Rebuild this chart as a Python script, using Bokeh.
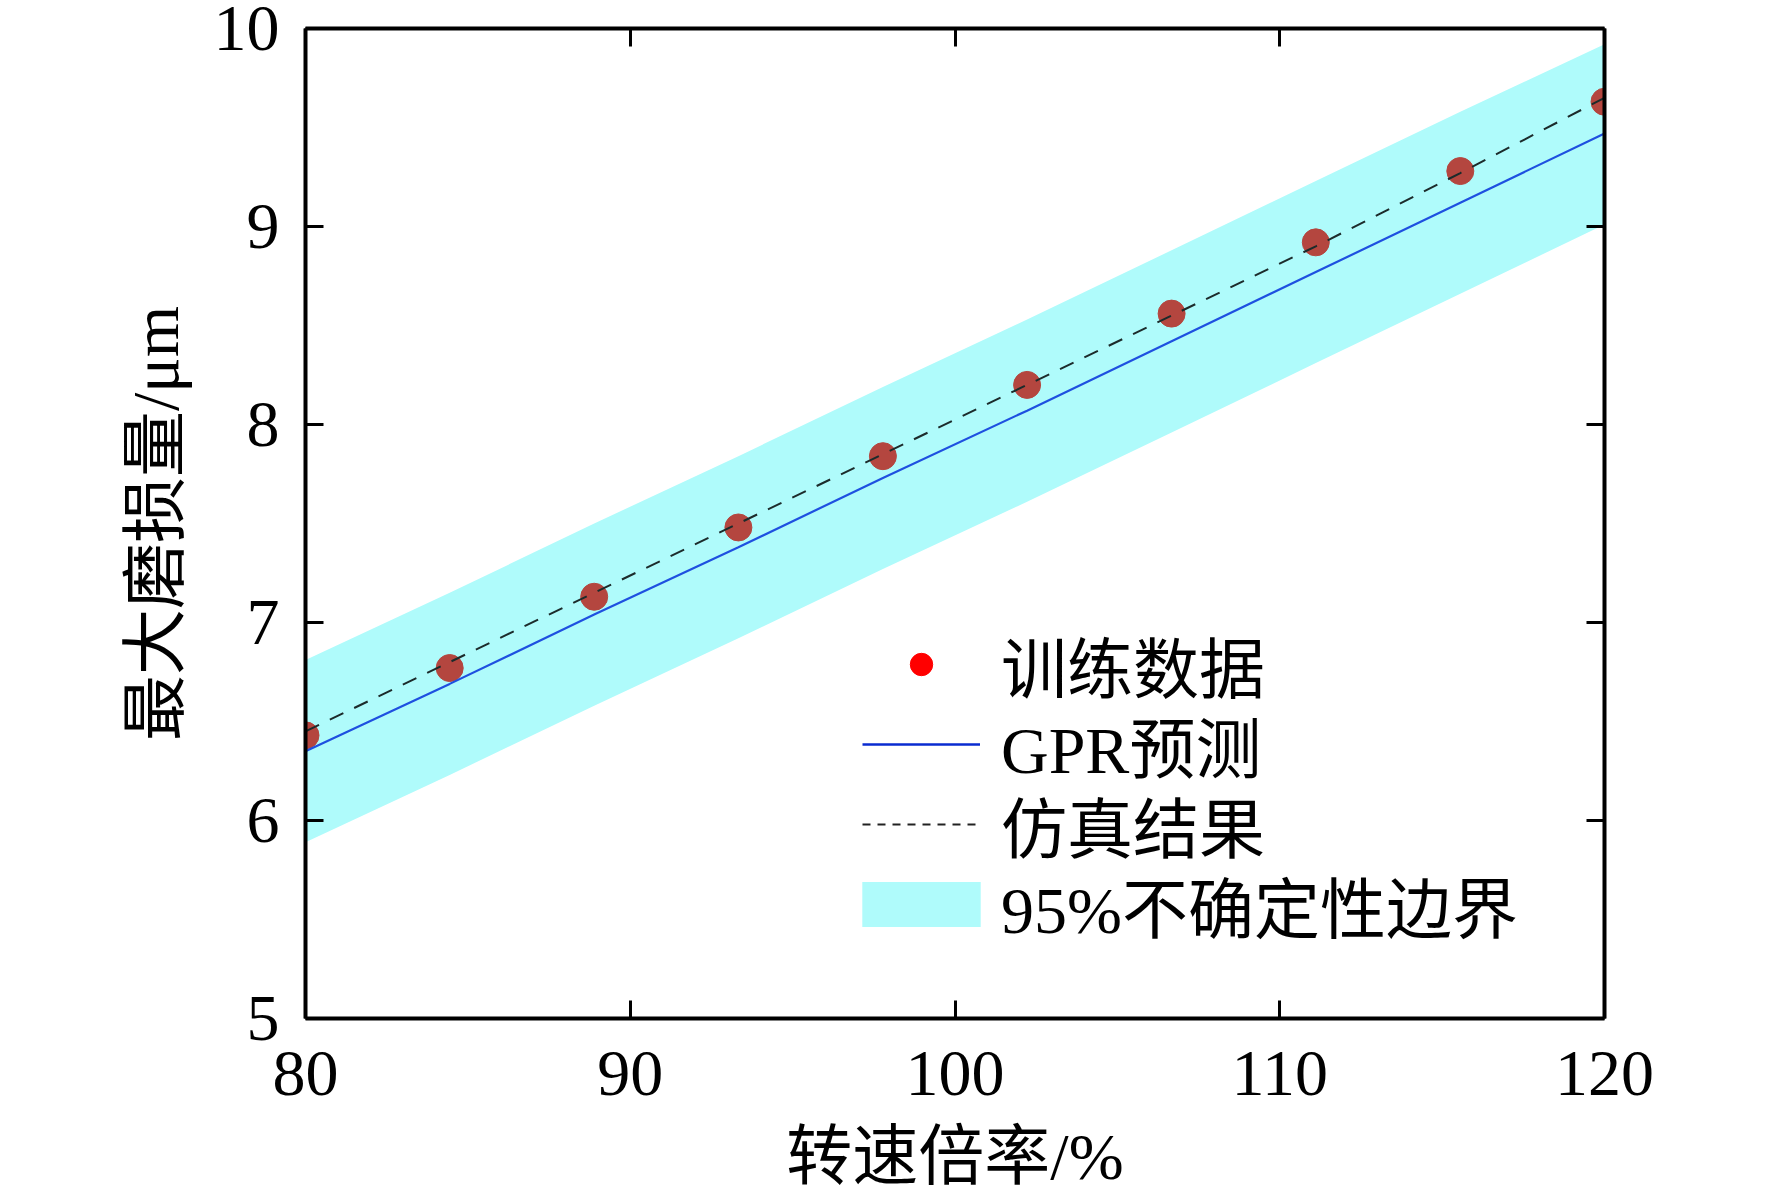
from bokeh.plotting import figure
from bokeh.models import (Range1d, LinearAxis, FixedTicker, ColumnDataSource,
                          Legend, LegendItem, CDSView, IndexFilter)
from bokeh.embed import file_html
from bokeh.resources import INLINE

# ---- data ----
speed_ratio = [80.0, 84.44, 88.89, 93.33, 97.78, 102.22, 106.67, 111.11, 115.56, 120.0]
train_wear = [6.43, 6.77, 7.13, 7.48, 7.84, 8.20, 8.56, 8.92, 9.28, 9.63]
sim_wear = [6.45, 6.80, 7.15, 7.50, 7.85, 8.20, 8.55, 8.90, 9.27, 9.65]
gpr_pred = [6.35, 6.69, 7.04, 7.38, 7.73, 8.07, 8.42, 8.77, 9.12, 9.47]
band_upper = [6.81, 7.15, 7.50, 7.84, 8.19, 8.53, 8.88, 9.23, 9.58, 9.92]
band_lower = [5.89, 6.23, 6.58, 6.92, 7.27, 7.61, 7.96, 8.31, 8.66, 9.01]
x_ticks = [80, 90, 100, 110, 120]
y_ticks = [5, 6, 7, 8, 9, 10]
x_title = "转速倍率/%"
y_title = "最大磨损量/μm"
legend_labels = ["训练数据", "GPR预测", "仿真结果", "95%不确定性边界"]

SERIF = "Liberation Serif"
MIXED = "Liberation Serif, Noto Sans CJK SC"
FS = "66px"

src = ColumnDataSource(dict(x=speed_ratio, train=train_wear, sim=sim_wear,
                            gpr=gpr_pred, up=band_upper, lo=band_lower))
first_only = CDSView(filter=IndexFilter(indices=[0]))

p = figure(frame_width=1299, frame_height=990,
           x_range=Range1d(80, 120), y_range=Range1d(5, 10),
           output_backend="svg", toolbar_location=None,
           min_border_left=305, min_border_top=28, min_border_right=150,
           min_border_bottom=140)
p.background_fill_color = "white"
p.border_fill_color = "white"
p.outline_line_color = None
p.xgrid.visible = False
p.ygrid.visible = False

band = p.varea(x="x", y1="lo", y2="up", source=src, fill_color="#AFFBFB", fill_alpha=1.0)
# legend-only renderers: one point each (a one-point line draws nothing,
# the red dot is hidden under the first brown training point)
leg_pts = p.scatter(x="x", y="train", source=src, view=first_only, size=20,
                    fill_color="#FF0000", line_color="#FF0000")
leg_gpr = p.line(x="x", y="gpr", source=src, view=first_only, line_color="#0A2BD0",
                 line_width=2.4)
leg_sim = p.line(x="x", y="sim", source=src, view=first_only, line_color="#222222",
                 line_width=1.8, line_dash="8 7")

pts = p.scatter(x="x", y="train", source=src, size=27, fill_color="#B4463F",
                line_color="#B4463F")
gpr = p.line(x="x", y="gpr", source=src, line_color="#1E50E0", line_width=2.2)
sim = p.line(x="x", y="sim", source=src, line_color="#1c2b2b", line_width=2,
             line_dash="15 12")


def style_axis(ax, ticks, show_labels):
    ax.ticker = FixedTicker(ticks=ticks)
    ax.axis_line_width = 4
    ax.axis_line_color = "black"
    ax.major_tick_line_width = 3
    ax.major_tick_line_color = "black"
    ax.major_tick_in = 18
    ax.major_tick_out = 0
    ax.minor_tick_line_color = None
    ax.major_label_text_font = SERIF
    ax.major_label_text_font_size = FS
    ax.major_label_text_color = "black"
    if not show_labels:
        ax.major_label_overrides = {t: "" for t in ticks}
        ax.major_label_standoff = 0
    ax.axis_label_text_font = MIXED
    ax.axis_label_text_font_size = FS
    ax.axis_label_text_font_style = "normal"
    ax.axis_label_text_color = "black"


xb = p.xaxis[0]
style_axis(xb, x_ticks, True)
xb.axis_label = x_title
xb.major_label_standoff = 33
xb.axis_label_standoff = 22

yl = p.yaxis[0]
style_axis(yl, y_ticks, True)
yl.axis_label = y_title
yl.major_label_standoff = 26
yl.axis_label_standoff = 19

xt = LinearAxis()
style_axis(xt, x_ticks, False)
p.add_layout(xt, "above")

yr = LinearAxis()
style_axis(yr, y_ticks, False)
p.add_layout(yr, "right")


def add_legend(label, renderer, x, y, gw, gh, standoff):
    lg = Legend(items=[LegendItem(label=label, renderers=[renderer])], location=(x, y))
    lg.label_text_font = MIXED
    lg.label_text_font_size = FS
    lg.label_text_color = "black"
    lg.glyph_width = gw
    lg.glyph_height = gh
    lg.label_standoff = standoff
    lg.spacing = 0
    lg.padding = 0
    lg.margin = 0
    lg.border_line_color = None
    lg.background_fill_alpha = 0
    p.add_layout(lg, "center")


add_legend(legend_labels[0], leg_pts, 557, 306, 118, 56, 21)
add_legend(legend_labels[1], leg_gpr, 557, 226, 118, 56, 21)
add_legend(legend_labels[2], leg_sim, 557, 146, 118, 56, 21)
add_legend(legend_labels[3], band, 542, 66, 148, 56, 6)

open("out.html", "w").write(file_html(p, INLINE))
